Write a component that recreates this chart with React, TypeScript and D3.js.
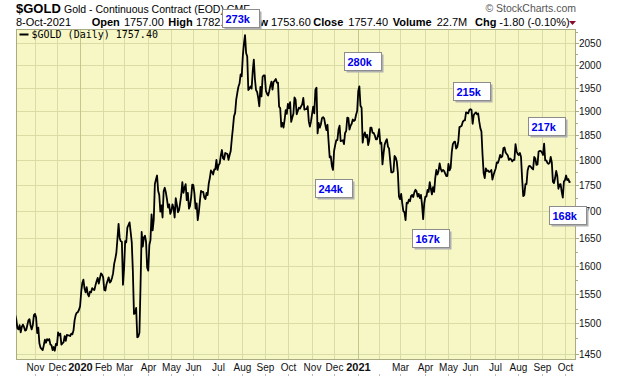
import React from 'react';
import * as d3 from 'd3';

const HOLIDAYS = [
  '2019-11-28', '2019-12-25', '2020-01-01', '2020-01-20', '2020-02-17', '2020-04-10', '2020-05-25',
  '2020-07-03', '2020-09-07', '2020-11-26', '2020-12-25', '2021-01-01', '2021-01-18', '2021-02-15',
  '2021-04-02', '2021-05-31', '2021-07-05', '2021-09-06',
];

const GOLD_2019: [string, number][] = [
  ['2019-10-08', 1514], ['2019-10-09', 1506], ['2019-10-10', 1492], ['2019-10-11', 1490], ['2019-10-14', 1497],
  ['2019-10-15', 1485], ['2019-10-16', 1494], ['2019-10-17', 1498], ['2019-10-18', 1494], ['2019-10-21', 1488],
  ['2019-10-22', 1489], ['2019-10-23', 1497], ['2019-10-24', 1505], ['2019-10-25', 1507], ['2019-10-28', 1496],
  ['2019-10-29', 1490], ['2019-10-30', 1497], ['2019-10-31', 1514], ['2019-11-01', 1516], ['2019-11-04', 1510],
  ['2019-11-05', 1484], ['2019-11-06', 1493], ['2019-11-07', 1467], ['2019-11-08', 1460], ['2019-11-11', 1458],
  ['2019-11-12', 1456], ['2019-11-13', 1464], ['2019-11-14', 1473], ['2019-11-15', 1468], ['2019-11-18', 1474],
  ['2019-11-19', 1472], ['2019-11-20', 1474], ['2019-11-21', 1465], ['2019-11-22', 1464], ['2019-11-25', 1456],
  ['2019-11-26', 1461], ['2019-11-27', 1455], ['2019-11-29', 1466], ['2019-12-02', 1464], ['2019-12-03', 1485],
  ['2019-12-04', 1480], ['2019-12-05', 1483], ['2019-12-06', 1465], ['2019-12-09', 1467], ['2019-12-10', 1469],
  ['2019-12-11', 1479], ['2019-12-12', 1471], ['2019-12-13', 1481], ['2019-12-16', 1480], ['2019-12-17', 1480],
  ['2019-12-18', 1479], ['2019-12-19', 1483], ['2019-12-20', 1482], ['2019-12-23', 1488], ['2019-12-24', 1505],
  ['2019-12-26', 1514], ['2019-12-27', 1518], ['2019-12-30', 1519], ['2019-12-31', 1523],
];

const GOLD_2020: [string, number][] = [
  ['2020-01-02', 1529], ['2020-01-03', 1553], ['2020-01-06', 1569], ['2020-01-07', 1575], ['2020-01-08', 1560],
  ['2020-01-09', 1553], ['2020-01-10', 1562], ['2020-01-13', 1550], ['2020-01-14', 1546], ['2020-01-15', 1554],
  ['2020-01-16', 1553], ['2020-01-17', 1560], ['2020-01-21', 1558], ['2020-01-22', 1557], ['2020-01-23', 1565],
  ['2020-01-24', 1572], ['2020-01-27', 1578], ['2020-01-28', 1568], ['2020-01-29', 1577], ['2020-01-30', 1586],
  ['2020-01-31', 1584], ['2020-02-03', 1579], ['2020-02-04', 1557], ['2020-02-05', 1556], ['2020-02-06', 1567],
  ['2020-02-07', 1573], ['2020-02-10', 1579], ['2020-02-11', 1570], ['2020-02-12', 1572], ['2020-02-13', 1578],
  ['2020-02-14', 1586], ['2020-02-18', 1603], ['2020-02-19', 1612], ['2020-02-20', 1623], ['2020-02-21', 1649],
  ['2020-02-24', 1676], ['2020-02-25', 1650], ['2020-02-26', 1644], ['2020-02-27', 1643], ['2020-02-28', 1566],
  ['2020-03-02', 1594], ['2020-03-03', 1644], ['2020-03-04', 1642], ['2020-03-05', 1669], ['2020-03-06', 1674],
  ['2020-03-09', 1679], ['2020-03-10', 1661], ['2020-03-11', 1642], ['2020-03-12', 1590], ['2020-03-13', 1516],
  ['2020-03-16', 1517], ['2020-03-17', 1526], ['2020-03-18', 1477], ['2020-03-19', 1478], ['2020-03-20', 1485],
  ['2020-03-23', 1567], ['2020-03-24', 1661], ['2020-03-25', 1634], ['2020-03-26', 1651], ['2020-03-27', 1654],
  ['2020-03-30', 1643], ['2020-03-31', 1596], ['2020-04-01', 1591], ['2020-04-02', 1637], ['2020-04-03', 1646],
  ['2020-04-06', 1694], ['2020-04-07', 1664], ['2020-04-08', 1684], ['2020-04-09', 1752], ['2020-04-13', 1761],
  ['2020-04-14', 1769], ['2020-04-15', 1739], ['2020-04-16', 1731], ['2020-04-17', 1699], ['2020-04-20', 1711],
  ['2020-04-21', 1688], ['2020-04-22', 1738], ['2020-04-23', 1745], ['2020-04-24', 1736], ['2020-04-27', 1723],
  ['2020-04-28', 1707], ['2020-04-29', 1713], ['2020-04-30', 1695], ['2020-05-01', 1700], ['2020-05-04', 1713],
  ['2020-05-05', 1706], ['2020-05-06', 1688], ['2020-05-07', 1725], ['2020-05-08', 1713], ['2020-05-11', 1698],
  ['2020-05-12', 1702], ['2020-05-13', 1716], ['2020-05-14', 1731], ['2020-05-15', 1756], ['2020-05-18', 1735],
  ['2020-05-19', 1745], ['2020-05-20', 1752], ['2020-05-21', 1721], ['2020-05-22', 1735], ['2020-05-26', 1705],
  ['2020-05-27', 1710], ['2020-05-28', 1726], ['2020-05-29', 1751], ['2020-06-01', 1750], ['2020-06-02', 1734],
  ['2020-06-03', 1705], ['2020-06-04', 1715], ['2020-06-05', 1683], ['2020-06-08', 1698], ['2020-06-09', 1720],
  ['2020-06-10', 1739], ['2020-06-11', 1737], ['2020-06-12', 1737], ['2020-06-15', 1726], ['2020-06-16', 1723],
  ['2020-06-17', 1735], ['2020-06-18', 1731], ['2020-06-19', 1753], ['2020-06-22', 1764], ['2020-06-23', 1779],
  ['2020-06-24', 1776], ['2020-06-25', 1771], ['2020-06-26', 1781], ['2020-06-29', 1781], ['2020-06-30', 1800],
  ['2020-07-01', 1780], ['2020-07-02', 1790], ['2020-07-06', 1793], ['2020-07-07', 1809], ['2020-07-08', 1820],
  ['2020-07-09', 1803], ['2020-07-10', 1801], ['2020-07-13', 1814], ['2020-07-14', 1813], ['2020-07-15', 1812],
  ['2020-07-16', 1800], ['2020-07-17', 1810], ['2020-07-20', 1818], ['2020-07-21', 1843], ['2020-07-22', 1865],
  ['2020-07-23', 1890], ['2020-07-24', 1897], ['2020-07-27', 1925], ['2020-07-28', 1940], ['2020-07-29', 1953],
  ['2020-07-30', 1960], ['2020-07-31', 1980], ['2020-08-03', 1976], ['2020-08-04', 2021], ['2020-08-05', 2049],
  ['2020-08-06', 2069], ['2020-08-07', 2028], ['2020-08-10', 2020], ['2020-08-11', 1946], ['2020-08-12', 1949],
  ['2020-08-13', 1954], ['2020-08-14', 1949], ['2020-08-17', 1987], ['2020-08-18', 2013], ['2020-08-19', 1970],
  ['2020-08-20', 1946], ['2020-08-21', 1942], ['2020-08-24', 1929], ['2020-08-25', 1911], ['2020-08-26', 1953],
  ['2020-08-27', 1932], ['2020-08-28', 1975], ['2020-08-31', 1978], ['2020-09-01', 1978], ['2020-09-02', 1944],
  ['2020-09-03', 1938], ['2020-09-04', 1934], ['2020-09-08', 1943], ['2020-09-09', 1955], ['2020-09-10', 1964],
  ['2020-09-11', 1947], ['2020-09-14', 1964], ['2020-09-15', 1966], ['2020-09-16', 1970], ['2020-09-17', 1962],
  ['2020-09-18', 1962], ['2020-09-21', 1910], ['2020-09-22', 1907], ['2020-09-23', 1868], ['2020-09-24', 1876],
  ['2020-09-25', 1866], ['2020-09-28', 1882], ['2020-09-29', 1903], ['2020-09-30', 1895], ['2020-10-01', 1916],
  ['2020-10-02', 1907], ['2020-10-05', 1920], ['2020-10-06', 1878], ['2020-10-07', 1887], ['2020-10-08', 1895],
  ['2020-10-09', 1930], ['2020-10-12', 1925], ['2020-10-13', 1894], ['2020-10-14', 1901], ['2020-10-15', 1908],
  ['2020-10-16', 1906], ['2020-10-19', 1911], ['2020-10-20', 1915], ['2020-10-21', 1929], ['2020-10-22', 1904],
  ['2020-10-23', 1905], ['2020-10-26', 1905], ['2020-10-27', 1911], ['2020-10-28', 1879], ['2020-10-29', 1868],
  ['2020-10-30', 1879], ['2020-11-02', 1895], ['2020-11-03', 1910], ['2020-11-04', 1896], ['2020-11-05', 1946],
  ['2020-11-06', 1951], ['2020-11-09', 1854], ['2020-11-10', 1876], ['2020-11-11', 1866], ['2020-11-12', 1873],
  ['2020-11-13', 1886], ['2020-11-16', 1888], ['2020-11-17', 1885], ['2020-11-18', 1872], ['2020-11-19', 1861],
  ['2020-11-20', 1872], ['2020-11-23', 1837], ['2020-11-24', 1805], ['2020-11-25', 1807], ['2020-11-27', 1788],
  ['2020-11-30', 1780], ['2020-12-01', 1818], ['2020-12-02', 1830], ['2020-12-03', 1840], ['2020-12-04', 1840],
  ['2020-12-07', 1862], ['2020-12-08', 1870], ['2020-12-09', 1838], ['2020-12-10', 1839], ['2020-12-11', 1840],
  ['2020-12-14', 1832], ['2020-12-15', 1855], ['2020-12-16', 1859], ['2020-12-17', 1887], ['2020-12-18', 1886],
  ['2020-12-21', 1862], ['2020-12-22', 1870], ['2020-12-23', 1874], ['2020-12-24', 1883], ['2020-12-28', 1880],
  ['2020-12-29', 1882], ['2020-12-30', 1893], ['2020-12-31', 1901],
];

const GOLD_2021: [string, number][] = [
  ['2021-01-04', 1944], ['2021-01-05', 1954], ['2021-01-06', 1912], ['2021-01-07', 1908], ['2021-01-08', 1835],
  ['2021-01-11', 1850], ['2021-01-12', 1856], ['2021-01-13', 1846], ['2021-01-14', 1851], ['2021-01-15', 1830],
  ['2021-01-19', 1840], ['2021-01-20', 1866], ['2021-01-21', 1866], ['2021-01-22', 1855], ['2021-01-25', 1855],
  ['2021-01-26', 1850], ['2021-01-27', 1842], ['2021-01-28', 1842], ['2021-01-29', 1850], ['2021-02-01', 1863],
  ['2021-02-02', 1833], ['2021-02-03', 1835], ['2021-02-04', 1791], ['2021-02-05', 1813], ['2021-02-08', 1831],
  ['2021-02-09', 1838], ['2021-02-10', 1842], ['2021-02-11', 1827], ['2021-02-12', 1823], ['2021-02-16', 1799],
  ['2021-02-17', 1775], ['2021-02-18', 1775], ['2021-02-19', 1777], ['2021-02-22', 1808], ['2021-02-23', 1805],
  ['2021-02-24', 1797], ['2021-02-25', 1775], ['2021-02-26', 1728], ['2021-03-01', 1723], ['2021-03-02', 1733],
  ['2021-03-03', 1715], ['2021-03-04', 1700], ['2021-03-05', 1698], ['2021-03-08', 1683], ['2021-03-09', 1716],
  ['2021-03-10', 1715], ['2021-03-11', 1722], ['2021-03-12', 1719], ['2021-03-15', 1729], ['2021-03-16', 1731],
  ['2021-03-17', 1727], ['2021-03-18', 1736], ['2021-03-19', 1741], ['2021-03-22', 1738], ['2021-03-23', 1728],
  ['2021-03-24', 1733], ['2021-03-25', 1725], ['2021-03-26', 1731], ['2021-03-29', 1712], ['2021-03-30', 1685],
  ['2021-03-31', 1715], ['2021-04-01', 1728], ['2021-04-05', 1728], ['2021-04-06', 1741], ['2021-04-07', 1737],
  ['2021-04-08', 1756], ['2021-04-09', 1743], ['2021-04-12', 1732], ['2021-04-13', 1746], ['2021-04-14', 1737],
  ['2021-04-15', 1764], ['2021-04-16', 1780], ['2021-04-19', 1771], ['2021-04-20', 1778], ['2021-04-21', 1793],
  ['2021-04-22', 1782], ['2021-04-23', 1777], ['2021-04-26', 1780], ['2021-04-27', 1778], ['2021-04-28', 1773],
  ['2021-04-29', 1768], ['2021-04-30', 1768], ['2021-05-03', 1792], ['2021-05-04', 1779], ['2021-05-05', 1784],
  ['2021-05-06', 1815], ['2021-05-07', 1832], ['2021-05-10', 1836], ['2021-05-11', 1837], ['2021-05-12', 1823],
  ['2021-05-13', 1826], ['2021-05-14', 1838], ['2021-05-17', 1867], ['2021-05-18', 1868], ['2021-05-19', 1870],
  ['2021-05-20', 1878], ['2021-05-21', 1881], ['2021-05-24', 1881], ['2021-05-25', 1898], ['2021-05-26', 1897],
  ['2021-05-27', 1896], ['2021-05-28', 1903], ['2021-06-01', 1905], ['2021-06-02', 1903], ['2021-06-03', 1874],
  ['2021-06-04', 1892], ['2021-06-07', 1896], ['2021-06-08', 1898], ['2021-06-09', 1894], ['2021-06-10', 1896],
  ['2021-06-11', 1879], ['2021-06-14', 1865], ['2021-06-15', 1858], ['2021-06-16', 1811], ['2021-06-17', 1774],
  ['2021-06-18', 1764], ['2021-06-21', 1783], ['2021-06-22', 1778], ['2021-06-23', 1779], ['2021-06-24', 1776],
  ['2021-06-25', 1777], ['2021-06-28', 1780], ['2021-06-29', 1761], ['2021-06-30', 1770], ['2021-07-01', 1777],
  ['2021-07-02', 1783], ['2021-07-06', 1795], ['2021-07-07', 1794], ['2021-07-08', 1801], ['2021-07-09', 1810],
  ['2021-07-12', 1805], ['2021-07-13', 1807], ['2021-07-14', 1824], ['2021-07-15', 1825], ['2021-07-16', 1815],
  ['2021-07-19', 1812], ['2021-07-20', 1809], ['2021-07-21', 1800], ['2021-07-22', 1803], ['2021-07-23', 1801],
  ['2021-07-26', 1797], ['2021-07-27', 1800], ['2021-07-28', 1800], ['2021-07-29', 1832], ['2021-07-30', 1817],
  ['2021-08-02', 1812], ['2021-08-03', 1810], ['2021-08-04', 1814], ['2021-08-05', 1806], ['2021-08-06', 1763],
  ['2021-08-09', 1729], ['2021-08-10', 1731], ['2021-08-11', 1752], ['2021-08-12', 1752], ['2021-08-13', 1779],
  ['2021-08-16', 1787], ['2021-08-17', 1788], ['2021-08-18', 1786], ['2021-08-19', 1783], ['2021-08-20', 1781],
  ['2021-08-23', 1806], ['2021-08-24', 1803], ['2021-08-25', 1790], ['2021-08-26', 1791], ['2021-08-27', 1817],
  ['2021-08-30', 1818], ['2021-08-31', 1818], ['2021-09-01', 1815], ['2021-09-02', 1810], ['2021-09-03', 1833],
  ['2021-09-07', 1799], ['2021-09-08', 1799], ['2021-09-09', 1794], ['2021-09-10', 1792], ['2021-09-13', 1794],
  ['2021-09-14', 1806], ['2021-09-15', 1795], ['2021-09-16', 1757], ['2021-09-17', 1754], ['2021-09-20', 1764],
  ['2021-09-21', 1778], ['2021-09-22', 1768], ['2021-09-23', 1743], ['2021-09-24', 1751], ['2021-09-27', 1752],
  ['2021-09-28', 1737], ['2021-09-29', 1726], ['2021-09-30', 1757], ['2021-10-01', 1760], ['2021-10-04', 1769],
  ['2021-10-05', 1760], ['2021-10-06', 1762], ['2021-10-07', 1756], ['2021-10-08', 1757.4],
];

const Y_TICKS = [1450, 1500, 1550, 1600, 1650, 1700, 1750, 1800, 1850, 1900, 1950, 2000, 2050];
const Y_MINOR = [1475, 1525, 1575, 1625, 1675, 1725, 1775, 1825, 1875, 1925, 1975, 2025, 2075];

const MONTH_TICKS = [
  '2019-11', '2019-12', '2020-01', '2020-02', '2020-03', '2020-04', '2020-05', '2020-06', '2020-07', '2020-08',
  '2020-09', '2020-10', '2020-11', '2020-12', '2021-01', '2021-02', '2021-03', '2021-04', '2021-05', '2021-06',
  '2021-07', '2021-08', '2021-09', '2021-10',
];
const MONTH_LABELS = [
  'Nov', 'Dec', '2020', 'Feb', 'Mar', 'Apr', 'May', 'Jun', 'Jul', 'Aug',
  'Sep', 'Oct', 'Nov', 'Dec', '2021', '', 'Mar', 'Apr', 'May', 'Jun',
  'Jul', 'Aug', 'Sep', 'Oct',
];

const VOLUME_NOTES = [
  { label: '273k', date: '2020-07-08', price: 2130 },
  { label: '280k', date: '2020-12-14', price: 2031 },
  { label: '244k', date: '2020-11-05', price: 1762 },
  { label: '167k', date: '2021-03-16', price: 1666 },
  { label: '215k', date: '2021-05-07', price: 1964 },
  { label: '217k', date: '2021-08-13', price: 1888 },
  { label: '168k', date: '2021-09-10', price: 1710 },
];

const QUOTE: [string, string, number, number][] = [
  ['Open', '1757.00', 91.7, 124],
  ['High', '1782.60', 168.3, 196],
  ['Low', '1753.60', 246, 271],
  ['Close', '1757.40', 313.3, 348.3],
  ['Volume', '22.7M', 392.7, 436.7],
  ['Chg', '-1.80 (-0.10%)', 475, 499.3],
];

const FONT = '"Liberation Sans", Arial, sans-serif';

function tradingDays(start: string, end: string): string[] {
  const hol = new Set(HOLIDAYS);
  const out: string[] = [];
  const endT = Date.parse(end + 'T00:00:00Z');
  for (let t = Date.parse(start + 'T00:00:00Z'); t <= endT; t += 86400000) {
    const d = new Date(t);
    const wd = d.getUTCDay();
    const s = d.toISOString().slice(0, 10);
    if (wd !== 0 && wd !== 6 && !hol.has(s)) out.push(s);
  }
  return out;
}

export default function App() {
  const days = tradingDays('2019-10-08', '2021-10-08');
  const index = new Map<string, number>(days.map((d, i) => [d, i]));
  const idx = (s: string) => (index.has(s) ? index.get(s)! : d3.bisectLeft(days, s));

  const left = 16, right = 576, top = 29, bottom = 360;
  const x = d3.scaleLinear().domain([idx('2019-11-01'), idx('2021-10-01')]).range([35, 565]);
  const y = d3.scaleLog().domain([1440, 2083]).range([bottom, top]);

  const data = [...GOLD_2019, ...GOLD_2020, ...GOLD_2021];
  const linePath = d3.line<[string, number]>()
    .x((d) => x(idx(d[0])))
    .y((d) => y(d[1]))(data) || '';

  const monthX = MONTH_TICKS.map((m) => {
    const first = days.find((d) => d.startsWith(m))!;
    return Math.round(x(idx(first))) + 0.5;
  });

  const bg = '#f7f7c6';
  const grid = '#d9dca4';
  const yearGrid = '#c2c78a';
  const border = '#a9ac82';

  return (
    <svg width={620} height={376} style={{ position: 'absolute', left: 0, top: 0, background: '#fff' }}
      fontFamily={FONT}>
      <defs>
        <clipPath id="plotClip">
          <rect x={left} y={top} width={right - left} height={bottom - top} />
        </clipPath>
      </defs>
      <rect x={0} y={0} width={620} height={376} fill="#fff" />

      {/* header */}
      <text x={16} y={13} fontSize={13} fontWeight="bold" fill="#000">$GOLD</text>
      <text x={64} y={12.5} fontSize={10.5} fill="#000">Gold - Continuous Contract (EOD) CME</text>
      <text x={576} y={11.5} fontSize={10.5} fill="#555" textAnchor="end">© StockCharts.com</text>
      <text x={16} y={26} fontSize={11} fill="#000">8-Oct-2021</text>
      {QUOTE.map(([k, v, kx, vx]) => (
        <g key={k}>
          <text x={kx} y={26} fontSize={11} fontWeight="bold" fill="#000">{k}</text>
          <text x={vx} y={26} fontSize={11} fill="#000">{v}</text>
        </g>
      ))}
      <path d="M569,21 L576,21 L572.5,25 Z" fill="#8a0a2a" />

      {/* plot */}
      <rect x={left} y={top} width={right - left} height={bottom - top} fill={bg} />
      {Y_TICKS.map((t) => {
        const yy = Math.round(y(t)) + 0.5;
        return <line key={'h' + t} x1={left} x2={right} y1={yy} y2={yy} stroke={grid} strokeWidth={1} />;
      })}
      {monthX.map((mx, i) => (
        <line key={'v' + i} x1={mx} x2={mx} y1={top} y2={bottom}
          stroke={MONTH_LABELS[i] === '2020' || MONTH_LABELS[i] === '2021' ? yearGrid : grid} strokeWidth={1} />
      ))}
      <rect x={left + 0.5} y={top + 0.5} width={right - left - 1} height={bottom - top - 1} fill="none" stroke={border} strokeWidth={1} />

      {/* legend */}
      <line x1={19.5} x2={28.5} y1={34.5} y2={34.5} stroke="#000" strokeWidth={2} />
      <text x={31.5} y={37.5} fontSize={10} fontFamily='"DejaVu Sans Mono", monospace' fill="#000">$GOLD (Daily) 1757.40</text>

      <path d={linePath} fill="none" stroke="#000" strokeWidth={1.8} strokeLinejoin="round" clipPath="url(#plotClip)" />

      {/* y axis */}
      {Y_TICKS.map((t) => {
        const yy = Math.round(y(t)) + 0.5;
        return (
          <g key={'yt' + t}>
            <line x1={right} x2={right + 3} y1={yy} y2={yy} stroke={border} />
            <text x={579} y={yy + 3.5} fontSize={10} fill="#111">{t}</text>
          </g>
        );
      })}
      {Y_MINOR.map((t) => {
        const yy = Math.round(y(t)) + 0.5;
        if (yy < top || yy > bottom) return null;
        return <line key={'ym' + t} x1={right} x2={right + 2} y1={yy} y2={yy} stroke={border} />;
      })}

      {/* x axis */}
      {monthX.map((mx, i) => {
        const lbl = MONTH_LABELS[i];
        const isYear = /^\d{4}$/.test(lbl);
        return (
          <g key={'xl' + i}>
            {lbl && (
              <text x={mx} y={371} fontSize={isYear ? 11 : 10} fontWeight={isYear ? 'bold' : 'normal'}
                textAnchor="middle" fill="#111">{lbl}</text>
            )}
            <line x1={mx} x2={mx} y1={374} y2={376} stroke="#bbb" />
          </g>
        );
      })}

      {/* volume notes */}
      {VOLUME_NOTES.map((n) => {
        const bx = Math.round(x(idx(n.date))) + 0.5;
        const by = Math.round(y(n.price)) + 0.5;
        return (
          <g key={n.label}>
            <rect x={bx + 2} y={by + 2} width={37} height={18} fill="#b0b0b0" />
            <rect x={bx} y={by} width={37} height={18} fill="#fff" stroke="#8c8c8c" strokeWidth={1} />
            <text x={bx + 3} y={by + 13} fontSize={11} fontWeight="bold" fill="#0000ee">{n.label}</text>
          </g>
        );
      })}
    </svg>
  );
}
